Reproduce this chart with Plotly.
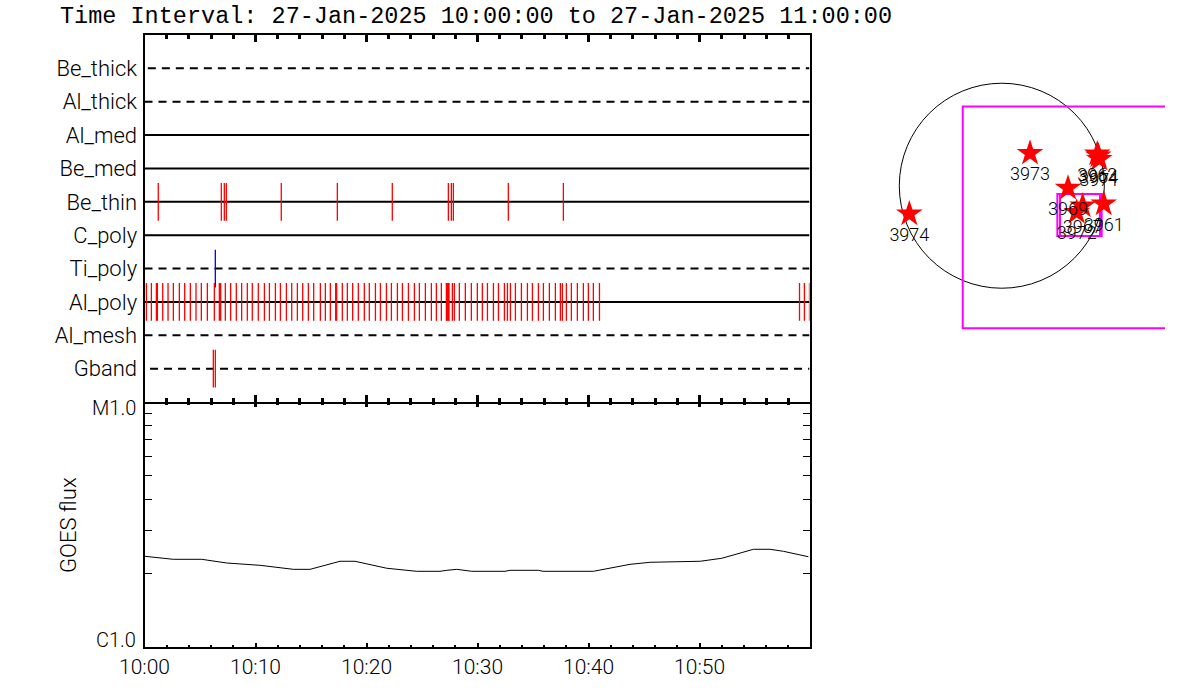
"""Filter timeline, GOES flux and solar disc locator for one hour on 27-Jan-2025."""

import plotly.graph_objects as go

# minutes after 10:00
X_RANGE = [0, 59.9]
X_MAJOR = [0, 10, 20, 30, 40, 50]
X_LABELS = ["10:00", "10:10", "10:20", "10:30", "10:40", "10:50"]

FILTERS = ["Gband", "Al_mesh", "Al_poly", "Ti_poly", "C_poly",
           "Be_thin", "Be_med", "Al_med", "Al_thick", "Be_thick"]
FILTER_DASHED = [True, True, False, True, False,
                 False, False, False, True, True]
FILTER_START = [0.5, 0, 0, 0, 0, 0, 0, 0, 0, 0.3]

BE_THIN_TIMES = [1.24, 6.92, 7.19, 7.37, 12.32, 17.37, 22.32,
                 27.37, 27.64, 27.82, 32.77, 37.73]
TI_POLY_TIMES = [6.38]
GBAND_TIMES = [6.2, 6.38]
AL_POLY_TIMES = [
    0.17, 0.62, 1.07, 1.16, 1.64, 2.12, 2.60, 3.14, 3.62, 4.13, 4.64, 5.12,
    5.66, 6.29, 6.74, 6.86, 7.28, 7.76, 8.27, 8.75, 9.26, 9.71, 10.25, 10.80,
    11.25, 11.79, 12.24, 12.78, 13.26, 13.77, 14.25, 14.76, 15.24, 15.84,
    16.29, 16.74, 17.22, 17.31, 17.82, 18.27, 18.75, 19.26, 19.80, 20.25,
    20.80, 21.25, 21.79, 22.24, 22.78, 23.23, 23.77, 24.31, 24.76, 25.30,
    25.84, 26.29, 26.74, 27.19, 27.28, 27.37, 27.43, 27.73, 27.91, 28.36,
    28.90, 29.44, 29.98, 30.43, 30.89, 31.43, 31.88, 32.42, 32.69, 32.96,
    33.41, 33.95, 34.49, 34.94, 35.48, 35.93, 36.47, 37.01, 37.46, 37.64,
    38.00, 38.45, 38.99, 39.53, 39.98, 40.43, 40.98, 59.0, 59.44, 59.9,
]

GOES_TIMES = [0, 2.59, 5.15, 7.41, 10.41, 13.41, 14.91, 17.61, 18.96, 21.82,
              24.52, 26.62, 27.23, 28.13, 29.48, 32.48, 32.93, 35.48, 35.90,
              40.43, 43.74, 45.54, 50.05, 52.0, 54.85, 56.35, 57.55, 59.8]
GOES_FLUX = [2.346e-6, 2.280e-6, 2.280e-6, 2.202e-6, 2.155e-6, 2.075e-6,
             2.075e-6, 2.238e-6, 2.238e-6, 2.096e-6, 2.037e-6, 2.037e-6,
             2.056e-6, 2.075e-6, 2.037e-6, 2.037e-6, 2.056e-6, 2.056e-6,
             2.037e-6, 2.037e-6, 2.175e-6, 2.217e-6, 2.238e-6, 2.302e-6,
             2.505e-6, 2.505e-6, 2.458e-6, 2.336e-6]
GOES_TICKS = [1e-6, 2e-6, 3e-6, 4e-6, 5e-6, 6e-6, 7e-6, 8e-6, 9e-6, 1e-5]

# solar disc, arcsec
SOLAR_RADIUS = 960
AR_NUMBERS = ["3974", "3973", "3969", "3961", "3962", "3964", "3971", "3967", "3972"]
AR_X = [-866, 264, 620, 954, 894, 904, 913, 757, 701]
AR_Y = [-264, 304, -23, -170, 298, 279, 248, -189, -248]
BOX_X0 = [-366, 520, 545]
BOX_X1 = [1710, 919, 935]
BOX_Y0 = [-1334, -470, -470]
BOX_Y1 = [741, -77, -77]

FONT = "Roboto"
TITLE_FONT = "Liberation Mono"


def px_x(px):
    return px / 1200


def px_y(px):
    return 1 - px / 700


def label_font(size):
    return dict(family=FONT, size=size, color="black", weight=300)


fig = go.Figure()

# filter rows
for row, (name, dashed, start) in enumerate(zip(FILTERS, FILTER_DASHED, FILTER_START), 1):
    fig.add_trace(go.Scatter(
        x=[start, X_RANGE[1]], y=[row, row], mode="lines",
        line=dict(color="black", width=2, dash="8px,6px" if dashed else "solid"),
        xaxis="x2", yaxis="y2", name=name,
    ))

# observation ticks, one trace per filter that has any
obs = [("Be_thin", BE_THIN_TIMES, "#ff0000"), ("Ti_poly", TI_POLY_TIMES, "#0000ff"),
       ("Al_poly", AL_POLY_TIMES, "#ff0000"), ("Gband", GBAND_TIMES, "#ff0000")]
for name, times, color in obs:
    row = FILTERS.index(name) + 1
    fig.add_trace(go.Scatter(
        x=times, y=[row] * len(times), mode="markers",
        marker=dict(symbol="line-ns", size=27, line=dict(color=color, width=1.3)),
        xaxis="x2", yaxis="y2", name=name + " obs",
    ))

fig.add_trace(go.Scatter(
    x=GOES_TIMES, y=GOES_FLUX, mode="lines",
    line=dict(color="black", width=1),
    xaxis="x", yaxis="y", name="GOES",
))
# empty traces so the outer edges get their own ticks
fig.add_trace(go.Scatter(x=[None], y=[None], xaxis="x3", yaxis="y", showlegend=False))
fig.add_trace(go.Scatter(x=[None], y=[None], xaxis="x5", yaxis="y2", showlegend=False))

fig.add_trace(go.Scatter(
    x=AR_X, y=AR_Y, text=AR_NUMBERS, mode="markers+text",
    textposition="bottom center",
    textfont=label_font(18),
    marker=dict(symbol="star", size=20, color="#ff0000", line=dict(width=0)),
    xaxis="x4", yaxis="y4", name="AR",
))

fig.add_shape(type="circle", xref="x4", yref="y4",
              x0=-SOLAR_RADIUS, x1=SOLAR_RADIUS, y0=-SOLAR_RADIUS, y1=SOLAR_RADIUS,
              line=dict(color="black", width=1), layer="below")
for x0, x1, y0, y1 in zip(BOX_X0, BOX_X1, BOX_Y0, BOX_Y1):
    fig.add_shape(type="rect", xref="x4", yref="y4", x0=x0, x1=x1, y0=y0, y1=y1,
                  line=dict(color="#ff00ff", width=2), layer="below")

x_domain = [px_x(144.5), px_x(809.5)]
x_common = dict(
    domain=x_domain, range=X_RANGE, tickmode="array", tickvals=X_MAJOR,
    showgrid=False, zeroline=False, showline=True, linecolor="black", linewidth=2,
    ticks="inside", tickcolor="black", automargin=False,
)
x_minor = dict(dtick=2, ticks="inside", ticklen=4, tickwidth=3, tickcolor="black", showgrid=False)

fig.update_layout(
    width=1200, height=700, autosize=False, showlegend=False,
    margin=dict(l=0, r=0, t=0, b=0, autoexpand=False),
    paper_bgcolor="white", plot_bgcolor="white",
    font=label_font(22),
    title=dict(
        text="Time Interval: 27-Jan-2025 10:00:00 to 27-Jan-2025 11:00:00",
        x=px_x(60), xanchor="left", y=px_y(15), yanchor="middle",
        font=dict(family=TITLE_FONT, size=23.5, color="black"),
    ),
    # lower panel bottom edge, carries the time labels
    xaxis=dict(x_common, anchor="y", ticktext=X_LABELS, ticklen=4, tickwidth=2,
               ticklabelstandoff=0, tickfont=label_font(21),
               minor=dict(x_minor, ticklen=2, tickwidth=2)),
    # upper panel bottom edge
    xaxis2=dict(x_common, anchor="y2", ticklen=7, tickwidth=3, showticklabels=False,
                minor=x_minor),
    # lower panel top edge, the upper panel already drew this line
    xaxis3=dict(x_common, anchor="y", overlaying="x", side="top", ticklen=5, tickwidth=3,
                showticklabels=False, showline=False, minor=dict(x_minor, ticklen=3)),
    # upper panel top edge
    xaxis5=dict(x_common, anchor="y2", overlaying="x2", side="top", ticklen=7, tickwidth=3,
                showticklabels=False, minor=x_minor),
    xaxis4=dict(domain=[px_x(890), px_x(1165)], range=[-1047, 1528], anchor="y4", visible=False),
    yaxis=dict(
        domain=[px_y(647), px_y(402)], type="log", range=[-6, -5], anchor="x",
        tickmode="array", tickvals=GOES_TICKS, ticktext=[""] * len(GOES_TICKS),
        ticks="inside", ticklen=7, tickwidth=1, tickcolor="black",
        showgrid=False, zeroline=False, showline=True, linecolor="black", linewidth=2,
        mirror="ticks", automargin=False,
    ),
    yaxis2=dict(
        domain=[px_y(402), px_y(35)], range=[0, 11], anchor="x2",
        tickmode="array", tickvals=list(range(1, len(FILTERS) + 1)), ticktext=FILTERS,
        ticks="", ticklabelstandoff=1, automargin=False,
        showgrid=False, zeroline=False, showline=True, linecolor="black", linewidth=2,
        mirror=True,
    ),
    yaxis4=dict(domain=[px_y(335), px_y(75)], range=[-1398, 1037], anchor="x4", visible=False),
)

# M1.0 and C1.0 sit just inside the axis ends, so they are placed by hand
for value, label, shift in [(-5, "M1.0", -6), (-6, "C1.0", 7)]:
    fig.add_annotation(text=label, xref="paper", yref="y", x=px_x(137.5), y=value,
                       xanchor="right", yanchor="middle", yshift=shift, showarrow=False,
                       font=label_font(20))
fig.add_annotation(text="GOES flux", xref="paper", yref="paper", x=px_x(68), y=px_y(525),
                   xanchor="center", yanchor="middle",
                   textangle=-90, showarrow=False, font=label_font(22))

fig.write_html("out.html", config={"displayModeBar": False},
               post_script="document.body.style.margin='0';")
